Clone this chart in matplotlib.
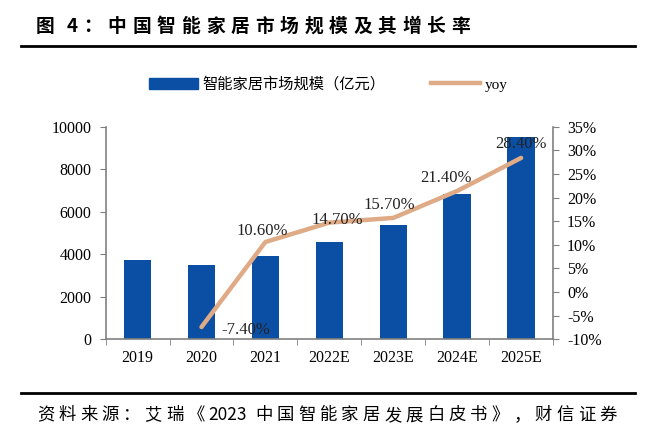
import re
import matplotlib
matplotlib.use("Agg")
import matplotlib.pyplot as plt
from matplotlib.lines import Line2D
from matplotlib.patches import Patch

# 数据
years = ["2019", "2020", "2021", "2022E", "2023E", "2024E", "2025E"]
market = [3730, 3480, 3900, 4590, 5360, 6820, 9500]
yoy_years = ["2020", "2021", "2022E", "2023E", "2024E", "2025E"]
yoy = [-7.4, 10.6, 14.7, 15.7, 21.4, 28.4]
left_ticks = [0, 2000, 4000, 6000, 8000, 10000]
right_ticks = [-10, -5, 0, 5, 10, 15, 20, 25, 30, 35]

cjk = ["Noto Sans CJK SC", "DejaVu Sans"]
serif = ["Liberation Serif", "Noto Sans CJK SC"]
bar_color = "#0B4FA5"
line_color = "#DFAA86"
axis_color = "#808080"

plt.rcParams["font.family"] = serif

fig = plt.figure(figsize=(6.6, 4.38), dpi=100)
ax = fig.add_axes([0.160, 0.2253, 0.678, 0.4854])

x = list(range(len(years)))
ax.bar(x, market, width=0.43, color=bar_color, zorder=2)
ax.set_xlim(-0.5, len(years) - 0.5)
ax.set_ylim(0, 10000)
ax.set_yticks(left_ticks)
ax.set_yticklabels([str(t) for t in left_ticks], fontsize=11.5)
ax.set_xticks(x)
ax.set_xticklabels(years, fontsize=11.5)
ax.tick_params(axis="x", length=0, pad=8)
ax.tick_params(axis="y", direction="out", length=4, color=axis_color, pad=6)
# 类别边界刻度
ax.set_xticks([i - 0.5 for i in range(len(years) + 1)], minor=True)
ax.tick_params(axis="x", which="minor", direction="out", length=4, color=axis_color)
for side in ["top", "right"]:
    ax.spines[side].set_visible(False)
for side in ["left", "bottom"]:
    ax.spines[side].set_color(axis_color)
    ax.spines[side].set_linewidth(1.2)

ax2 = ax.twinx()
xi = [years.index(y) for y in yoy_years]
ax2.plot(xi, yoy, color=line_color, linewidth=3.2, solid_capstyle="round",
         solid_joinstyle="round", zorder=3)
ax2.set_ylim(-10, 35)
ax2.set_yticks(right_ticks)
ax2.set_yticklabels([f"{t}%" for t in right_ticks], fontsize=11.5)
ax2.tick_params(axis="y", direction="out", length=4, color=axis_color, pad=6)
for side in ["top", "left", "bottom"]:
    ax2.spines[side].set_visible(False)
ax2.spines["right"].set_color(axis_color)
ax2.spines["right"].set_linewidth(1.2)

# 数据标签
offsets = [(32, -2), (-2, 8), (6, 2), (-3, 9), (-8, 9), (0, 10)]
for xv, v, (dx, dy) in zip(xi, yoy, offsets):
    ax2.annotate(f"{v:.2f}%", (xv, v), xytext=(dx, dy), textcoords="offset points",
                 ha="center", va="center", fontsize=12, color="#222222")

# 图例
handles = [Patch(color=bar_color), Line2D([0], [0], color=line_color, linewidth=3.2)]
leg = fig.legend(handles, ["智能家居市场规模（亿元）", "yoy"], loc="center",
                 bbox_to_anchor=(0.497, 0.808), ncol=2, frameon=False,
                 handlelength=3.2, handleheight=0.7, columnspacing=3.0,
                 handletextpad=0.3, fontsize=11)
leg.get_texts()[0].set_family(cjk)

fig.canvas.draw()
renderer = fig.canvas.get_renderer()


def spaced_text(x0, y, s, track, **kw):
    # 逐字排版，加字间距（数字连在一起）
    xp = x0
    for tok in re.findall(r"[0-9A-Za-z]+|.", s):
        if tok == " ":
            xp += track
            continue
        t = fig.text(xp / 660, y, tok, va="center", ha="left", **kw)
        w = t.get_window_extent(renderer).width
        xp += w + track


# 标题与横线
spaced_text(36, 0.94, "图 4：中国智能家居市场规模及其增长率", 5.8,
            fontsize=13.5, fontweight="bold", family=cjk)
fig.add_artist(Line2D([0.032, 0.962], [0.896, 0.896], color="black", linewidth=2))
fig.add_artist(Line2D([0.032, 0.962], [0.103, 0.103], color="black", linewidth=2))
spaced_text(37, 0.052, "资料来源：艾瑞《2023 中国智能家居发展白皮书》，财信证券", 4.1,
            fontsize=12.5, family=cjk, style="italic")

fig.savefig("out.png", dpi=100)
